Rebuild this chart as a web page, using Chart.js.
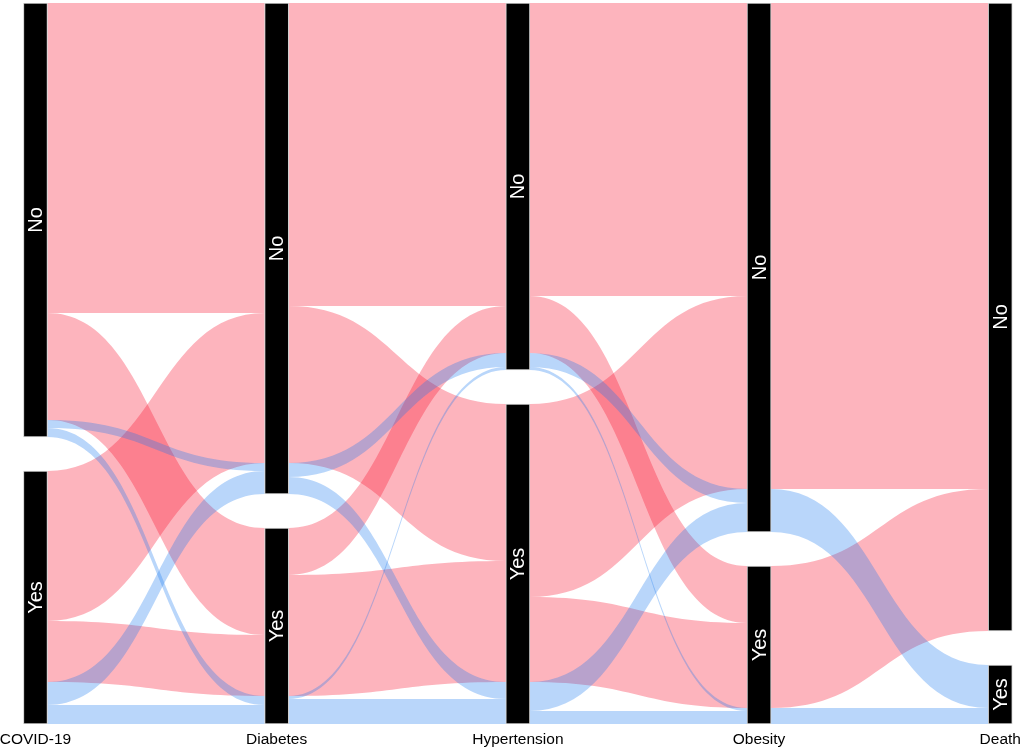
<!DOCTYPE html>
<html>
<head>
<meta charset="utf-8">
<script src="https://cdn.jsdelivr.net/npm/chart.js@4.4.1/dist/chart.umd.min.js"></script>
<style>
  html, body { margin: 0; padding: 0; background: #fff; }
  canvas { display: block; }
</style>
</head>
<body>
<canvas id="alluvial" width="1021" height="749"></canvas>
<script>
const axisNames = ['COVID-19', 'Diabetes', 'Hypertension', 'Obesity', 'Death'];
const strata = ['No', 'Yes'];

// flows between neighbouring axes: [from stratum, to stratum, death, count]
const covidToDiabetes = [
  ['No', 'No', 'No', 310], ['No', 'Yes', 'No', 107],
  ['No', 'No', 'Yes', 8], ['No', 'Yes', 'Yes', 9],
  ['Yes', 'No', 'No', 150], ['Yes', 'Yes', 'No', 61],
  ['Yes', 'No', 'Yes', 23], ['Yes', 'Yes', 'Yes', 19]
];
const diabetesToHypertension = [
  ['No', 'No', 'No', 303], ['No', 'Yes', 'No', 157],
  ['No', 'No', 'Yes', 14], ['No', 'Yes', 'Yes', 17],
  ['Yes', 'No', 'No', 47], ['Yes', 'Yes', 'No', 121],
  ['Yes', 'No', 'Yes', 3], ['Yes', 'Yes', 'Yes', 25]
];
const hypertensionToObesity = [
  ['No', 'No', 'No', 293], ['No', 'Yes', 'No', 57],
  ['No', 'No', 'Yes', 14], ['No', 'Yes', 'Yes', 3],
  ['Yes', 'No', 'No', 193], ['Yes', 'Yes', 'No', 85],
  ['Yes', 'No', 'Yes', 29], ['Yes', 'Yes', 'Yes', 13]
];
const obesityToDeath = [
  ['No', 'No', 'No', 486], ['No', 'Yes', 'Yes', 43],
  ['Yes', 'No', 'No', 142], ['Yes', 'Yes', 'Yes', 16]
];

const segments = [covidToDiabetes, diabetesToHypertension, hypertensionToObesity, obesityToDeath];
const gap = 34; // space between No and Yes strata, in counts

const deathColors = { No: 'rgba(248, 8, 35, 0.3)', Yes: 'rgba(22, 118, 238, 0.3)' };

// stratum sizes on every axis
const totals = axisNames.map((_, i) => {
  const seg = i === 0 ? segments[0] : segments[i - 1];
  const side = i === 0 ? 0 : 1;
  const t = { No: 0, Yes: 0 };
  seg.forEach(f => { t[f[side]] += f[3]; });
  return t;
});
const yMax = totals[0].No + totals[0].Yes + gap;

function stratumStart(i, s) {
  return s === 'No' ? 0 : totals[i].No + gap;
}

// where each flow sits inside its stratum, on the left and the right axis
function lodes(segIdx) {
  const seg = segments[segIdx];
  const rank = v => strata.indexOf(v);
  const left = [], right = [];
  strata.forEach(s => {
    let y = stratumStart(segIdx, s);
    seg.map((f, k) => ({ f, k })).filter(o => o.f[0] === s)
      .sort((a, b) => rank(a.f[2]) - rank(b.f[2]) || rank(a.f[1]) - rank(b.f[1]))
      .forEach(o => { left[o.k] = [y, y + o.f[3]]; y += o.f[3]; });
    let y2 = stratumStart(segIdx + 1, s);
    seg.map((f, k) => ({ f, k })).filter(o => o.f[1] === s)
      .sort((a, b) => rank(a.f[2]) - rank(b.f[2]) || rank(a.f[0]) - rank(b.f[0]))
      .forEach(o => { right[o.k] = [y2, y2 + o.f[3]]; y2 += o.f[3]; });
  });
  return { left, right };
}

const barHalf = 12;

const flowPlugin = {
  id: 'flows',
  beforeDatasetsDraw(chart) {
    const { ctx, scales: { x, y } } = chart;
    ctx.save();
    ['No', 'Yes'].forEach(death => {
      segments.forEach((seg, si) => {
        const { left, right } = lodes(si);
        const xL = x.getPixelForValue(si) + barHalf;
        const xR = x.getPixelForValue(si + 1) - barHalf;
        const cx = (xL + xR) / 2;
        seg.forEach((f, k) => {
          if (f[2] !== death) return;
          const a0 = y.getPixelForValue(left[k][0]), a1 = y.getPixelForValue(left[k][1]);
          const b0 = y.getPixelForValue(right[k][0]), b1 = y.getPixelForValue(right[k][1]);
          ctx.beginPath();
          ctx.moveTo(xL, a0);
          ctx.bezierCurveTo(cx, a0, cx, b0, xR, b0);
          ctx.lineTo(xR, b1);
          ctx.bezierCurveTo(cx, b1, cx, a1, xL, a1);
          ctx.closePath();
          ctx.fillStyle = deathColors[death];
          ctx.fill();
        });
      });
    });
    ctx.restore();
  },
  afterDatasetsDraw(chart) {
    const { ctx, scales: { x, y } } = chart;
    ctx.save();
    // stratum labels
    ctx.fillStyle = '#fff';
    ctx.font = '20px "Liberation Sans", Arial, sans-serif';
    ctx.textAlign = 'center';
    ctx.textBaseline = 'middle';
    axisNames.forEach((_, i) => {
      strata.forEach(s => {
        const lo = stratumStart(i, s);
        const mid = y.getPixelForValue(lo + totals[i][s] / 2);
        ctx.save();
        ctx.translate(x.getPixelForValue(i) + 1, mid);
        ctx.rotate(-Math.PI / 2);
        ctx.fillText(s, 0, 0);
        ctx.restore();
      });
    });
    // axis names
    ctx.fillStyle = '#000';
    ctx.font = '15.5px "Liberation Sans", Arial, sans-serif';
    ctx.textBaseline = 'alphabetic';
    axisNames.forEach((name, i) => {
      ctx.fillText(name, x.getPixelForValue(i), 744);
    });
    ctx.restore();
  }
};

const stratumBars = strata.map(s => ({
  label: s,
  data: axisNames.map((_, i) => ({ x: i, y: [stratumStart(i, s), stratumStart(i, s) + totals[i][s]] })),
  backgroundColor: '#000',
  borderColor: '#cfcfcf',
  borderWidth: 1,
  borderSkipped: false,
  barThickness: 24,
  grouped: false
}));

new Chart(document.getElementById('alluvial'), {
  type: 'bar',
  data: { datasets: stratumBars },
  options: {
    responsive: false,
    animation: false,
    layout: { padding: { top: 3, bottom: 25, left: 0, right: 0 } },
    plugins: { legend: { display: false }, tooltip: { enabled: false } },
    scales: {
      x: { type: 'linear', min: -0.147, max: 4.086, offset: false, display: false },
      y: { type: 'linear', min: 0, max: yMax, reverse: true, display: false }
    }
  },
  plugins: [flowPlugin]
});
</script>
</body>
</html>
